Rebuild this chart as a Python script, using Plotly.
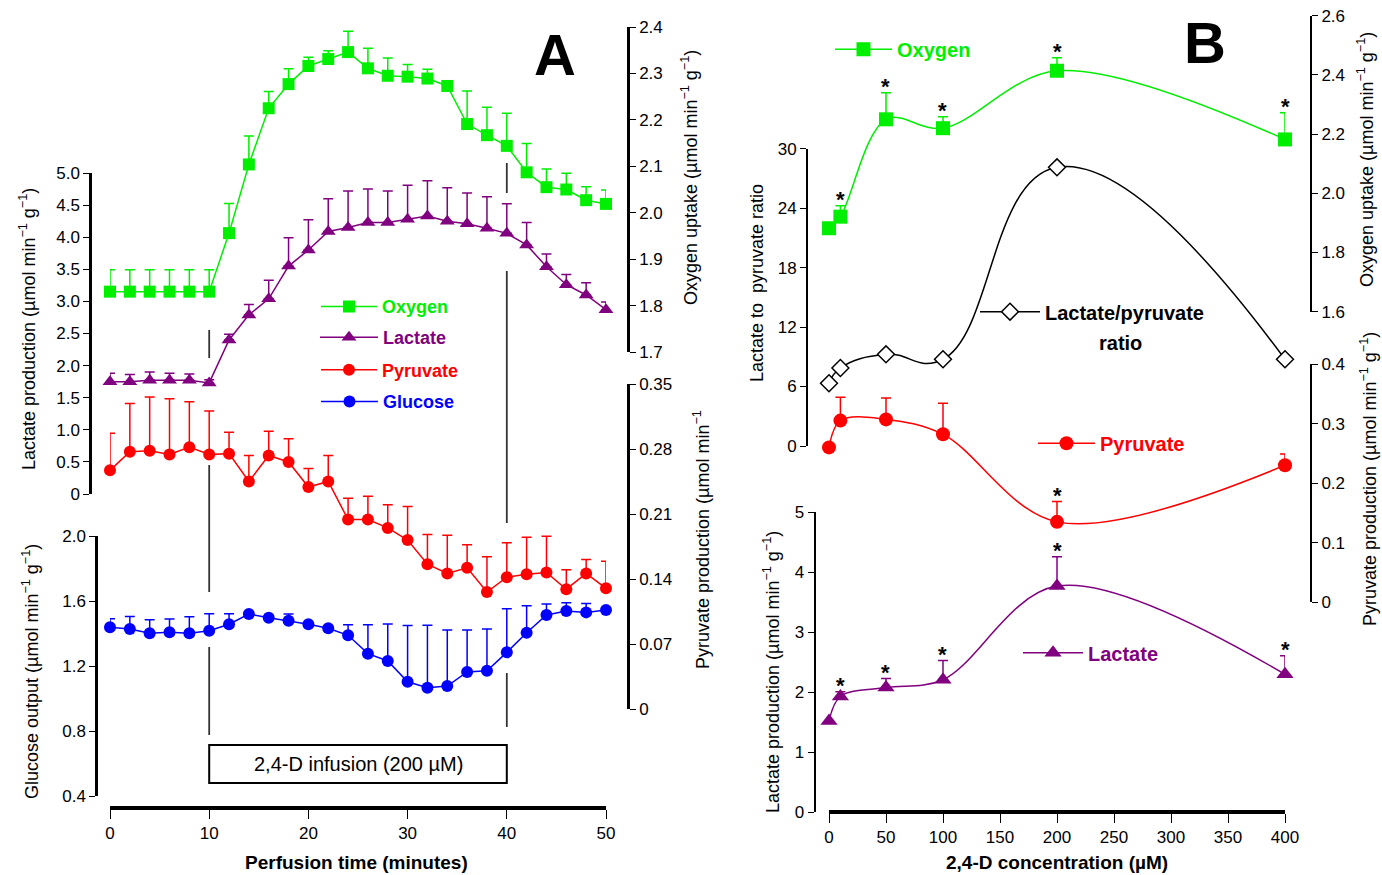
import plotly.graph_objects as go

W, H = 1382, 875
def fx(p): return p / W
def fy(p): return 1 - p / H

FONT = "Liberation Sans, Arial, sans-serif"
GREEN, PURPLE, RED, BLUE = "#00ee00", "#800080", "#ff0000", "#0000ff"

# ---------------- Panel A data (perfusion time course) ----------------
time_min = [0, 2, 4, 6, 8, 10, 12, 14, 16, 18, 20, 22, 24, 26, 28, 30, 32, 34, 36, 38, 40, 42, 44, 46, 48, 50]
oxygen_a = [1.83, 1.83, 1.83, 1.83, 1.83, 1.83, 1.956, 2.104, 2.225, 2.277, 2.316, 2.331, 2.346, 2.311, 2.295,
            2.293, 2.289, 2.273, 2.191, 2.167, 2.144, 2.087, 2.055, 2.050, 2.027, 2.019]
oxygen_a_err = [0.047, 0.047, 0.047, 0.047, 0.047, 0.047, 0.064, 0.061, 0.036, 0.033, 0.019, 0.018, 0.045, 0.043,
                0.038, 0.026, 0.020, 0.005, 0.071, 0.060, 0.070, 0.062, 0.039, 0.035, 0.029, 0.030]
lactate_a = [1.75, 1.75, 1.77, 1.77, 1.77, 1.73, 2.40, 2.79, 3.04, 3.55, 3.80, 4.09, 4.15, 4.23, 4.23, 4.28,
             4.33, 4.25, 4.21, 4.14, 4.06, 3.88, 3.54, 3.26, 3.10, 2.87]
lactate_a_err = [0.13, 0.11, 0.13, 0.11, 0.10, 0.05, 0.09, 0.16, 0.29, 0.44, 0.47, 0.51, 0.57, 0.52, 0.49, 0.53,
                 0.55, 0.52, 0.48, 0.49, 0.46, 0.35, 0.20, 0.16, 0.19, 0.12]
pyruvate_a = [0.257, 0.277, 0.278, 0.274, 0.282, 0.274, 0.275, 0.245, 0.273, 0.266, 0.239, 0.245, 0.204, 0.204,
              0.195, 0.182, 0.156, 0.146, 0.152, 0.126, 0.142, 0.145, 0.147, 0.129, 0.146, 0.130]
pyruvate_a_err = [0.040, 0.052, 0.058, 0.060, 0.049, 0.047, 0.023, 0.028, 0.026, 0.025, 0.020, 0.028, 0.023,
                  0.025, 0.025, 0.036, 0.032, 0.041, 0.025, 0.038, 0.037, 0.040, 0.039, 0.021, 0.015, 0.029]
glucose_a = [1.438, 1.428, 1.401, 1.407, 1.401, 1.417, 1.457, 1.520, 1.497, 1.479, 1.457, 1.432, 1.389, 1.276,
             1.231, 1.103, 1.066, 1.077, 1.163, 1.171, 1.284, 1.405, 1.514, 1.538, 1.530, 1.545]
glucose_a_err = [0.053, 0.076, 0.084, 0.082, 0.102, 0.105, 0.065, 0.01, 0.01, 0.041, 0.01, 0.01, 0.065, 0.178,
                 0.227, 0.347, 0.384, 0.345, 0.259, 0.257, 0.269, 0.166, 0.068, 0.052, 0.054, 0.01]
infusion_start, infusion_end = 10, 40
infusion_label = "2,4-D infusion (200 µM)"

# ---------------- Panel B data (dose response) ----------------
conc = [0, 10, 50, 100, 200, 400]
oxygen_b = [1.882, 1.921, 2.250, 2.220, 2.414, 2.182]
oxygen_b_err = [0.0, 0.037, 0.090, 0.039, 0.044, 0.090]
oxygen_b_sig = [False, True, True, True, True, True]
ratio_b = [6.33, 7.87, 9.25, 8.75, 28.12, 8.75]
pyruvate_b = [0.260, 0.305, 0.307, 0.282, 0.135, 0.230]
pyruvate_b_err = [0.0, 0.039, 0.036, 0.052, 0.034, 0.019]
pyruvate_b_sig = [False, False, False, False, True, False]
lactate_b = [1.52, 1.93, 2.08, 2.21, 3.77, 2.30]
lactate_b_err = [0.0, 0.08, 0.15, 0.32, 0.49, 0.31]
lactate_b_sig = [False, True, True, True, True, True]

# ---------------- tick labels ----------------
a_x_ticks = [0, 10, 20, 30, 40, 50]
a_lac_ticks = [0, 0.5, 1.0, 1.5, 2.0, 2.5, 3.0, 3.5, 4.0, 4.5, 5.0]
a_lac_text = ["0", "0.5", "1.0", "1.5", "2.0", "2.5", "3.0", "3.5", "4.0", "4.5", "5.0"]
a_glu_ticks = [0.4, 0.8, 1.2, 1.6, 2.0]
a_glu_text = ["0.4", "0.8", "1.2", "1.6", "2.0"]
a_oxy_ticks = [1.7, 1.8, 1.9, 2.0, 2.1, 2.2, 2.3, 2.4]
a_oxy_text = ["1.7", "1.8", "1.9", "2.0", "2.1", "2.2", "2.3", "2.4"]
a_pyr_ticks = [0, 0.07, 0.14, 0.21, 0.28, 0.35]
a_pyr_text = ["0", "0.07", "0.14", "0.21", "0.28", "0.35"]
b_x_ticks = [0, 50, 100, 150, 200, 250, 300, 350, 400]
b_ratio_ticks = [0, 6, 12, 18, 24, 30]
b_lac_ticks = [0, 1, 2, 3, 4, 5]
b_oxy_ticks = [1.6, 1.8, 2.0, 2.2, 2.4, 2.6]
b_oxy_text = ["1.6", "1.8", "2.0", "2.2", "2.4", "2.6"]
b_pyr_ticks = [0, 0.1, 0.2, 0.3, 0.4]
b_pyr_text = ["0", "0.1", "0.2", "0.3", "0.4"]

fig = go.Figure()

def err(arr, color, width):
    return dict(type="data", array=arr, arrayminus=[0] * len(arr), symmetric=False,
                color=color, thickness=1.5, width=width, visible=True)

def add(x, y, e, xa, ya, name, legend, color, symbol, size, shape="linear", fill=None, cap=5, smooth=1.0):
    fig.add_trace(go.Scatter(
        x=x, y=y, xaxis=xa, yaxis=ya, mode="lines+markers", name=name, legend=legend,
        line=dict(color=color, width=1.5, shape=shape, smoothing=smooth),
        marker=dict(symbol=symbol, size=size, color=fill or color,
                    line=dict(color=color, width=1.5 if fill else 0)),
        error_y=err(e, color, cap) if e is not None else None,
        cliponaxis=False, showlegend=True, hoverinfo="skip"))

# Panel A traces
add(time_min, glucose_a, glucose_a_err, "x", "y4", "<b>Glucose</b>", "legend4", BLUE, "circle", 12)
add(time_min, pyruvate_a, pyruvate_a_err, "x", "y2", "<b>Pyruvate</b>", "legend3", RED, "circle", 12)
add(time_min, lactate_a, lactate_a_err, "x", "y", "<b>Lactate</b>", "legend2", PURPLE, "triangle-up", 13)
add(time_min, oxygen_a, oxygen_a_err, "x", "y3", "<b>Oxygen</b>", "legend", GREEN, "square", 12)

# Panel B traces
add(conc, lactate_b, lactate_b_err, "x2", "y6", "<b>Lactate</b>", "legend8", PURPLE, "triangle-up", 15, "spline")
add(conc, pyruvate_b, pyruvate_b_err, "x2", "y8", "<b>Pyruvate</b>", "legend7", RED, "circle", 14, "spline")
add(conc, ratio_b, None, "x2", "y5", "<b>Lactate/pyruvate</b>", "legend6", "#000000", "diamond", 13, "spline",
    fill="#ffffff", smooth=1.3)
add(conc, oxygen_b, oxygen_b_err, "x2", "y7", "<b>Oxygen</b>", "legend5", GREEN, "square", 14, "spline")

tickfont = dict(family=FONT, size=17, color="black")

def yax(dom_px, rng, pos_px, side, tv, tt=None, lw=2.5):
    d = dict(domain=[fy(dom_px[0]), fy(dom_px[1])], range=rng, anchor="free", position=fx(pos_px),
             side=side, showline=True, linecolor="black", linewidth=lw, ticks="outside", ticklen=6,
             tickwidth=1.2, tickcolor="black", tickvals=tv, showgrid=False, zeroline=False,
             tickfont=tickfont, fixedrange=True)
    if tt is not None:
        d["ticktext"] = tt
    return d

def xax(dom_px, rng, pos_px, tv):
    return dict(domain=[fx(dom_px[0]), fx(dom_px[1])], range=rng, anchor="free", position=fy(pos_px),
                showline=True, linecolor="black", linewidth=4, ticks="outside", ticklen=9, tickwidth=1.2,
                tickcolor="black", tickvals=tv, showgrid=False, zeroline=False,
                tickfont=dict(family=FONT, size=17, color="black"), fixedrange=True)

def leg(xl, yc, w, color, size):
    return dict(x=fx(xl), y=fy(yc), xanchor="left", yanchor="middle", bgcolor="rgba(0,0,0,0)",
                borderwidth=0, itemwidth=w, itemclick=False, itemdoubleclick=False,
                font=dict(family=FONT, size=size, color=color))

layout = dict(
    width=W, height=H, margin=dict(l=0, r=0, t=0, b=0, autoexpand=False),
    paper_bgcolor="white", plot_bgcolor="rgba(0,0,0,0)",
    font=dict(family=FONT, color="black"),
    xaxis=xax((110, 606), [0, 50], 808, a_x_ticks),
    yaxis=yax((494, 173), [0, 5], 90, "left", a_lac_ticks, a_lac_text),
    yaxis2=yax((709, 384), [0, 0.35], 628, "right", a_pyr_ticks, a_pyr_text),
    yaxis3=yax((352, 27), [1.7, 2.4], 628, "right", a_oxy_ticks, a_oxy_text),
    yaxis4=yax((796, 536), [0.4, 2.0], 96, "left", a_glu_ticks, a_glu_text),
    xaxis2=xax((829, 1285), [0, 400], 812, b_x_ticks),
    yaxis5=yax((446, 148.7), [0, 30], 807, "left", b_ratio_ticks, lw=2),
    yaxis6=yax((812.3, 512.3), [0, 5], 814.7, "left", b_lac_ticks, lw=2),
    yaxis7=yax((311.7, 15.7), [1.6, 2.6], 1311, "right", b_oxy_ticks, b_oxy_text, lw=2),
    yaxis8=yax((602.3, 364), [0, 0.4], 1311, "right", b_pyr_ticks, b_pyr_text, lw=2),
    legend=leg(316, 306.7, 56, GREEN, 18),
    legend2=leg(315, 337.5, 58, PURPLE, 18),
    legend3=leg(316, 370, 56, RED, 18),
    legend4=leg(316, 401.7, 57, BLUE, 18),
    legend5=leg(830, 49.3, 57, GREEN, 20),
    legend6=leg(975, 311.7, 60, "black", 20),
    legend7=leg(1033, 443.3, 57, RED, 20),
    legend8=leg(1018, 652.7, 60, PURPLE, 20),
)
fig.update_layout(**layout)

# infusion markers in panel A
seg_px = {infusion_start: [(330, 358), (465, 592), (647, 735)],
          infusion_end: [(163, 193), (271, 523), (673, 727)]}
shapes = []
for xv, segs in seg_px.items():
    for (t, b) in segs:
        shapes.append(dict(type="line", xref="x", yref="paper", x0=xv, x1=xv, y0=fy(t), y1=fy(b),
                           line=dict(color="#333333", width=1.8)))
shapes.append(dict(type="rect", xref="x", yref="paper", x0=infusion_start, x1=infusion_end,
                   y0=fy(783), y1=fy(745), line=dict(color="black", width=2), fillcolor="white"))
fig.update_layout(shapes=shapes)

ann = []
def text(xp, yp, s, size, bold=False, angle=0, color="black", xanchor="center"):
    ann.append(dict(x=fx(xp), y=fy(yp), xref="paper", yref="paper", text=f"<b>{s}</b>" if bold else s,
                    showarrow=False, textangle=angle, xanchor=xanchor, yanchor="middle",
                    font=dict(family=FONT, size=size, color=color)))

unit = "(µmol min<sup>−1</sup> g<sup>−1</sup>)"
text(555, 55, "A", 58, bold=True)
text(1205, 42, "B", 58, bold=True)
text(27, 329, "Lactate production " + unit, 18, angle=-90)
text(30, 672, "Glucose output " + unit, 18, angle=-90)
text(690, 178, "Oxygen uptake " + unit, 18, angle=-90)
text(701, 540, "Pyruvate production (µmol min<sup>−1</sup>", 18, angle=-90)
text(357, 862, "Perfusion time (minutes)", 19, bold=True)
text(757, 283, "Lactate to  pyruvate ratio", 18, angle=-90)
text(771, 672, "Lactate production " + unit, 18, angle=-90)
text(1366, 160, "Oxygen uptake " + unit, 18, angle=-90)
text(1369, 479, "Pyruvate production " + unit, 18, angle=-90)
text(1057, 862, "2,4-D concentration (µM)", 19, bold=True)
text(1120, 343, "ratio", 20, bold=True)

ann.append(dict(x=(infusion_start + infusion_end) / 2, y=fy(764), xref="x", yref="paper",
                yanchor="middle", xanchor="center",
                text=infusion_label, showarrow=False, font=dict(family=FONT, size=20, color="black")))

for vals, errs, sig, ya in [(oxygen_b, oxygen_b_err, oxygen_b_sig, "y7"),
                            (pyruvate_b, pyruvate_b_err, pyruvate_b_sig, "y8"),
                            (lactate_b, lactate_b_err, lactate_b_sig, "y6")]:
    for xv, v, e, s in zip(conc, vals, errs, sig):
        if s:
            ann.append(dict(x=xv, y=v + e, xref="x2", yref=ya, text="<b>*</b>", showarrow=False,
                            yanchor="bottom", yshift=-8, font=dict(family=FONT, size=22, color="black")))
fig.update_layout(annotations=ann)

fig.write_html("out.html")
